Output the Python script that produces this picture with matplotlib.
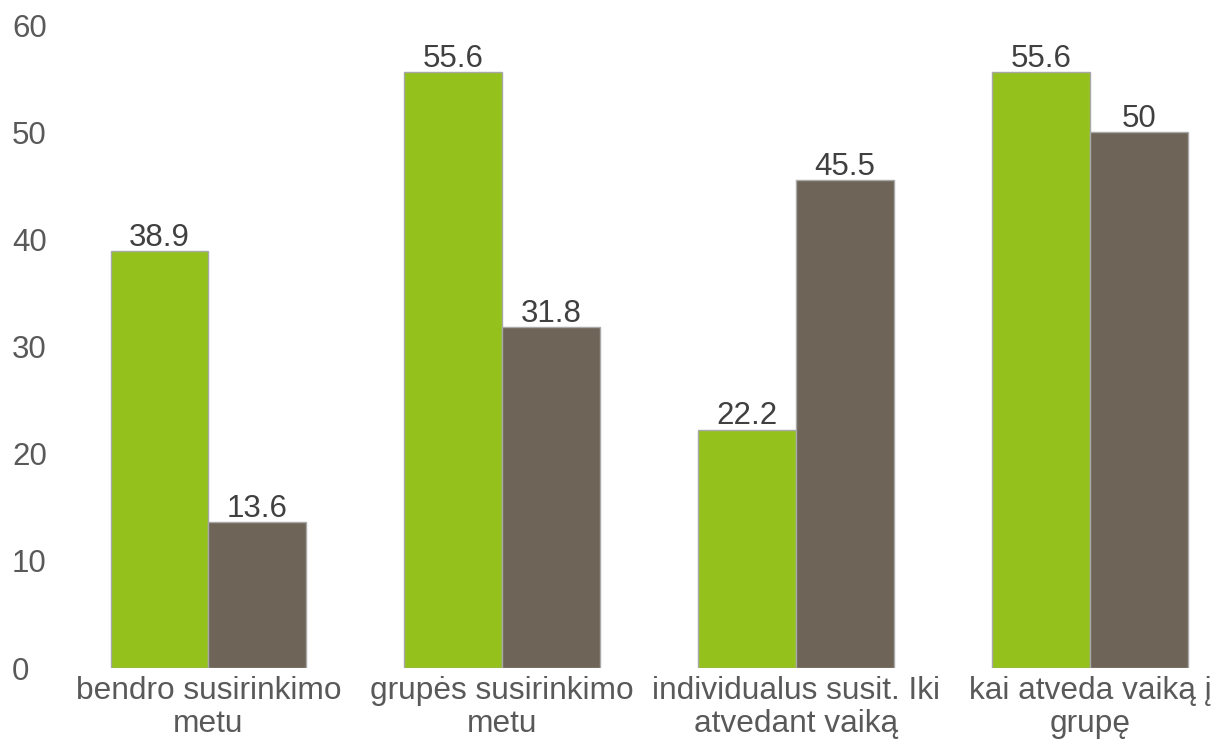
import matplotlib.pyplot as plt
import numpy as np

plt.rcParams['font.family'] = ['Liberation Sans', 'DejaVu Sans']

kategorijos = ['bendro susirinkimo\nmetu', 'grupės susirinkimo\nmetu',
               'individualus susit. Iki\natvedant vaiką', 'kai atveda vaiką į\ngrupę']
serija1 = [38.9, 55.6, 22.2, 55.6]
serija2 = [13.6, 31.8, 45.5, 50]
y_ticks = [0, 10, 20, 30, 40, 50, 60]

fig = plt.figure(figsize=(12.2, 7.51), dpi=100)
ax = fig.add_axes([0.0504, 0.1105, 0.9635, 0.8562])

x = np.arange(len(kategorijos))
w = 0.333
b1 = ax.bar(x - w/2, serija1, w, color='#95c11c', edgecolor='#a8a8a8', linewidth=1)
b2 = ax.bar(x + w/2, serija2, w, color='#6e6457', edgecolor='#a8a8a8', linewidth=1)

for bars, vals in [(b1, serija1), (b2, serija2)]:
    for b, v in zip(bars, vals):
        ax.annotate(f'{v:g}', (b.get_x() + b.get_width()/2, v), xytext=(0, -1),
                    textcoords='offset points', ha='center', va='bottom',
                    fontsize=22.5, color='#404040')

ax.set_xlim(-0.5, 3.5)
ax.set_ylim(0, 60)
ax.set_yticks(y_ticks)
ax.set_xticks(x)
ax.set_xticklabels(kategorijos, fontsize=22.8, color='#595959', linespacing=1.1)
for t in ax.get_yticklabels():
    t.set_horizontalalignment('left')
ax.tick_params(axis='y', length=0, pad=35.6, labelsize=22.5, labelcolor='#595959')
ax.tick_params(axis='x', length=0, pad=6)
for s in ax.spines.values():
    s.set_visible(False)

plt.savefig('out.png', dpi=100)
